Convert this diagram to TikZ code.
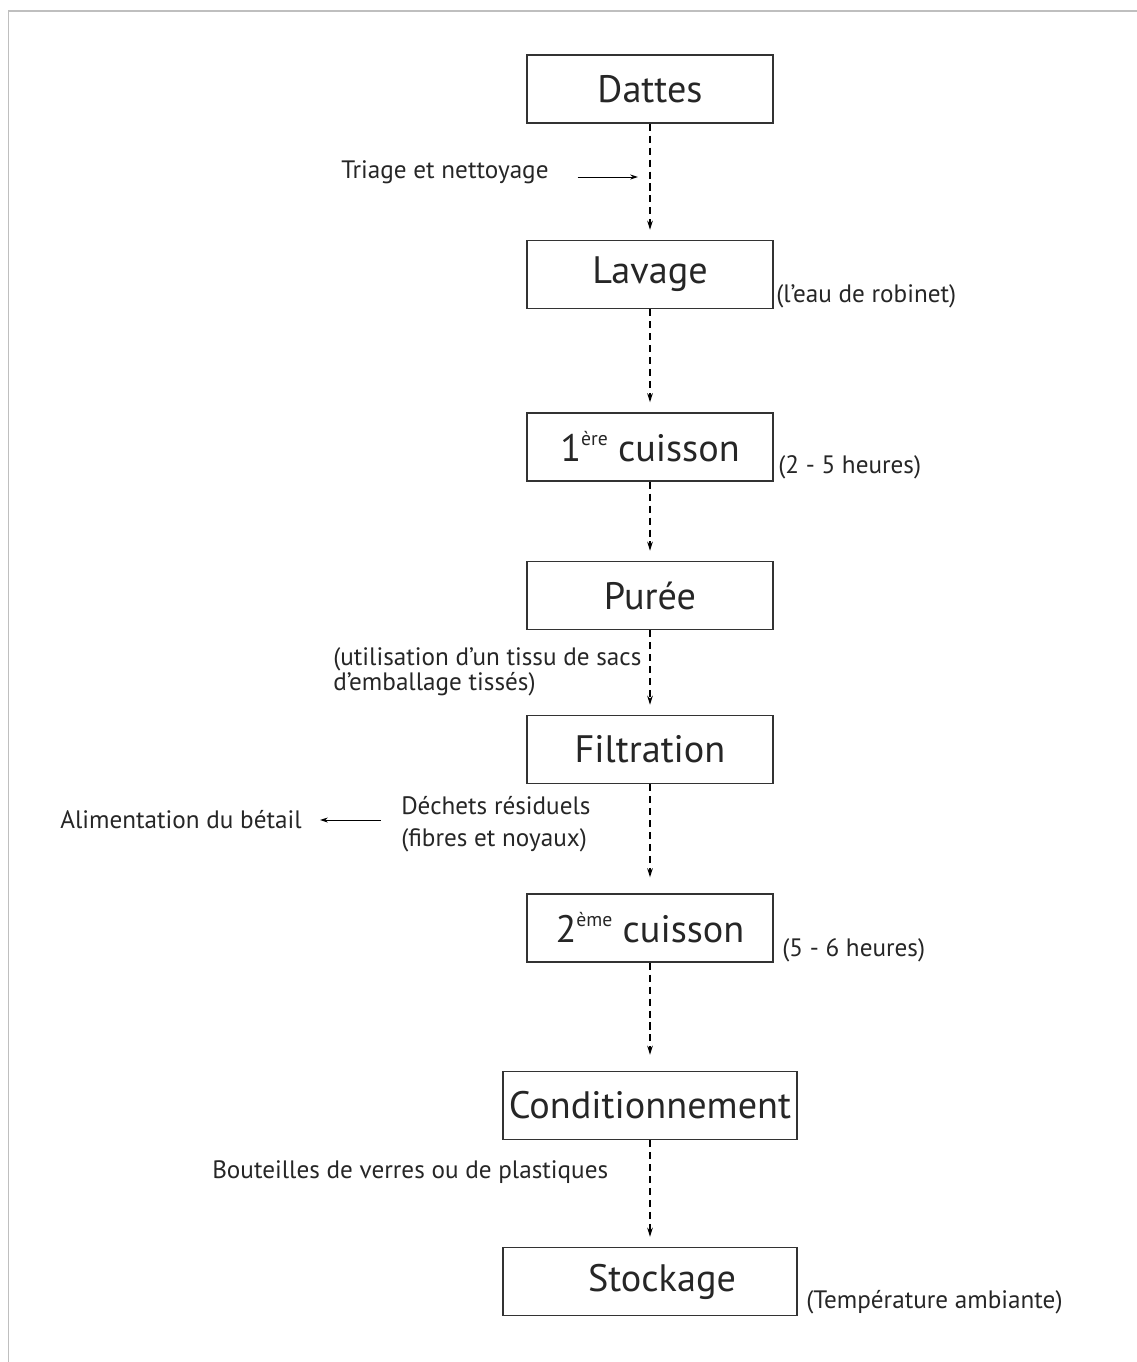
\documentclass[tikz,border=0pt]{standalone}
\usepackage{fontspec}
\setmainfont{PT Sans}
\usepackage{tikz}
\usetikzlibrary{positioning}
\usetikzlibrary{arrows.meta}
\newcommand{\expo}[1]{\raisebox{0.85ex}{\fontsize{14}{14}\selectfont #1}}
\tikzstyle{process} = [rectangle, draw=black!80, line width=1pt, minimum width=6.15cm, minimum height=1.7cm, inner sep=0pt, text=black!85, font=\fontsize{27.2}{30}\selectfont]
\tikzstyle{wideprocess} = [process, minimum width=7.35cm]
\tikzstyle{note} = [inner sep=0pt, text=black!85, font=\fontsize{17.9}{17.4}\selectfont, align=left]
\tikzstyle{flow} = [line width=0.9pt, dash pattern=on 5pt off 3.5pt, -{Stealth[length=6.5pt,width=4pt]}, shorten >=0.25cm]
\tikzstyle{arrow} = [line width=0.7pt, -{Stealth[length=5.5pt,width=3.5pt]}]

\begin{document}
\begin{tikzpicture}[x=0.025cm,y=-0.025cm]
\useasboundingbox (0,0) rectangle (1137,1362);
\draw[black!25, line width=1.4pt] (8.5,1362) -- (8.5,11) -- (1137,11);
\node[process] (dattes) at (650,89) {Dattes};
\node[process] (lavage) at (650,274.5) {Lavage};
\node[process] (cuisson1) at (650,447) {1\expo{ère} cuisson};
\node[process] (puree) at (650,595.5) {Purée};
\node[process] (filtration) at (650,749.5) {Filtration};
\node[process] (cuisson2) at (650,928) {2\expo{ème} cuisson};
\node[wideprocess] (cond) at (650,1105.5) {Conditionnement};
\node[wideprocess] (stockage) at (650,1281.5) {\hspace*{0.6cm}Stockage};
\draw[flow] (dattes) -- (lavage);
\draw[flow] (lavage) -- (cuisson1);
\draw[flow] (cuisson1) -- (puree);
\draw[flow] (puree) -- (filtration);
\draw[flow, shorten >=0.4cm] (filtration) -- (cuisson2);
\draw[flow, shorten >=0.4cm] (cuisson2) -- (cond);
\draw[flow] (cond) -- (stockage);
\node[note, anchor=west] (triage) at (341,172) {Triage et nettoyage};
\coordinate (triagetip) at (638,177);
\draw[arrow, shorten <=0.72cm] (triage.east |- triagetip) -- (triagetip);
\node[note, anchor=west] (eau) at (776,296) {(l’eau de robinet)};
\node[note, anchor=west] (heures1) at (778,467) {(2 - 5 heures)};
\node[note, anchor=west] (tissu) at (333,672) {(utilisation d’un tissu de sacs\\d’emballage tissés)};
\node[note, anchor=west, font=\fontsize{17.9}{22.6}\selectfont] (dechets) at (401,824) {Déchets résiduels\\(fibres et noyaux)};
\node[note, anchor=east] (betail) at (302,820) {Alimentation du bétail};
\draw[arrow, shorten <=0.5cm, shorten >=0.45cm] (dechets.west |- betail.east) -- (betail.east);
\node[note, anchor=west] (heures2) at (782,950) {(5 - 6 heures)};
\node[note, anchor=west] (bouteilles) at (212,1172) {Bouteilles de verres ou de plastiques};
\node[note, anchor=west] (temp) at (806,1302) {(Température ambiante)};
\end{tikzpicture}
\end{document}
